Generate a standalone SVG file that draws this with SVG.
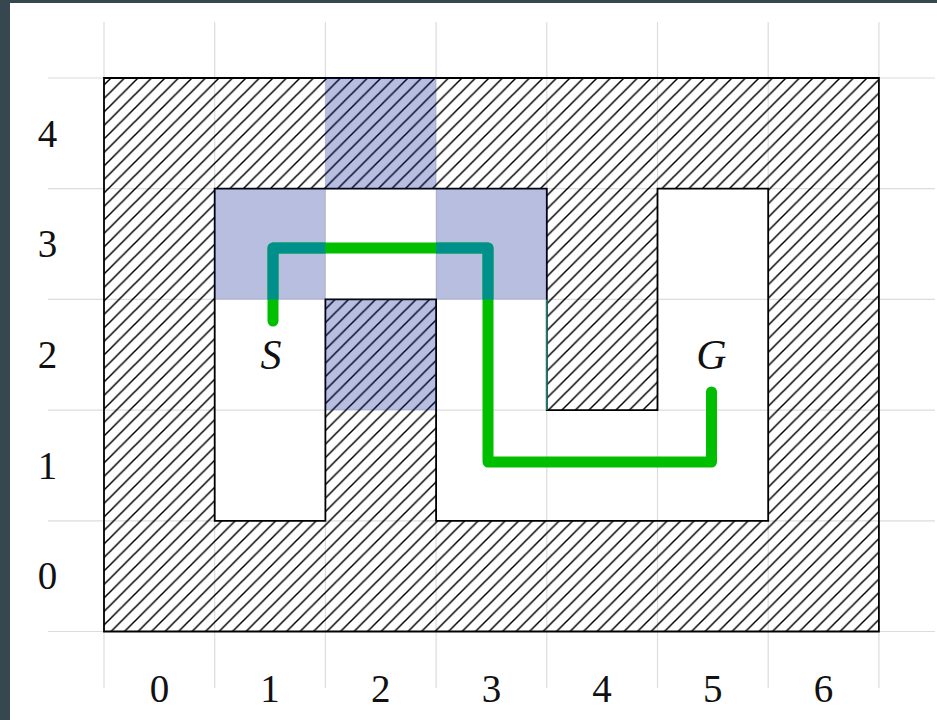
<svg xmlns="http://www.w3.org/2000/svg" width="937" height="720" viewBox="0 0 937 720">
<style>
.grid line{stroke:#dcdcdc;stroke-width:1.2}
.lbl{font-family:"Liberation Serif","DejaVu Serif",serif;font-size:39px;fill:#111;text-anchor:middle}
.sym{font-family:"Liberation Serif","DejaVu Serif",serif;font-size:42px;font-style:italic;fill:#111;text-anchor:middle}
.hl{fill:#0a1f90;fill-opacity:0.29}
.route{fill:none;stroke-width:11;stroke-linecap:round;stroke-linejoin:round}
</style>
<defs>
<pattern id="hatch" patternUnits="userSpaceOnUse" width="13.5" height="13.5">
<path d="M-3,3 L3,-3 M0,13.5 L13.5,0 M10.5,16.5 L16.5,10.5" stroke="#000" stroke-width="1.5"/>
</pattern>
<clipPath id="blueClip">
<rect x="214.7" y="188.7" width="110.7" height="110.7"/>
<rect x="436.1" y="188.7" width="110.7" height="110.7"/>
</clipPath>
</defs>
<rect x="0" y="0" width="937" height="720" fill="#fff"/>
<rect x="0" y="0" width="937" height="3" fill="#37474f"/>
<rect x="0" y="0" width="10" height="720" fill="#37474f"/>
<g id="grid" class="grid">
<line x1="104" y1="22" x2="104" y2="688"/>
<line x1="214.7" y1="22" x2="214.7" y2="688"/>
<line x1="325.4" y1="22" x2="325.4" y2="688"/>
<line x1="436.1" y1="22" x2="436.1" y2="688"/>
<line x1="546.8" y1="22" x2="546.8" y2="688"/>
<line x1="657.5" y1="22" x2="657.5" y2="688"/>
<line x1="768.2" y1="22" x2="768.2" y2="688"/>
<line x1="878.9" y1="22" x2="878.9" y2="688"/>
<line x1="48" y1="78" x2="935" y2="78"/>
<line x1="48" y1="188.7" x2="935" y2="188.7"/>
<line x1="48" y1="299.4" x2="935" y2="299.4"/>
<line x1="48" y1="410.1" x2="935" y2="410.1"/>
<line x1="48" y1="520.8" x2="935" y2="520.8"/>
<line x1="48" y1="631.5" x2="935" y2="631.5"/>
</g>
<g id="obstacles">
<path fill="url(#hatch)" fill-rule="evenodd" stroke="#000" stroke-width="1.8" d="M104,78 H878.9 V631.5 H104 Z M214.7,188.7 H546.8 V410.1 H657.5 V188.7 H768.2 V520.8 H436.1 V299.4 H325.4 V520.8 H214.7 Z"/>
<line x1="546.8" y1="299.4" x2="546.8" y2="410.1" stroke="#1f7a72" stroke-width="1.8"/>
</g>
<g id="highlighted-cells">
<rect class="hl" x="325.4" y="78" width="110.7" height="110.7"/>
<rect class="hl" x="214.7" y="188.7" width="110.7" height="110.7"/>
<rect class="hl" x="436.1" y="188.7" width="110.7" height="110.7"/>
<rect class="hl" x="325.4" y="299.4" width="110.7" height="110.7"/>
</g>
<g id="connectors">
<path class="route" stroke="#00bf00" d="M273,321 V248 H488 V462 H711.5 V392"/>
<path class="route" stroke="#00908b" clip-path="url(#blueClip)" d="M273,321 V248 H488 V462 H711.5 V392"/>
</g>
<g id="start"><text class="sym" x="271" y="369">S</text></g>
<g id="goal"><text class="sym" x="711.5" y="369">G</text></g>
<g id="axis-x">
<text class="lbl" x="159.4" y="702">0</text>
<text class="lbl" x="270" y="702">1</text>
<text class="lbl" x="380.7" y="702">2</text>
<text class="lbl" x="491.4" y="702">3</text>
<text class="lbl" x="602.1" y="702">4</text>
<text class="lbl" x="712.8" y="702">5</text>
<text class="lbl" x="823.5" y="702">6</text>
</g>
<g id="axis-y">
<text class="lbl" x="47.5" y="589">0</text>
<text class="lbl" x="47.5" y="478.5">1</text>
<text class="lbl" x="47.5" y="368">2</text>
<text class="lbl" x="47.5" y="257">3</text>
<text class="lbl" x="47.5" y="146.5">4</text>
</g>
</svg>
